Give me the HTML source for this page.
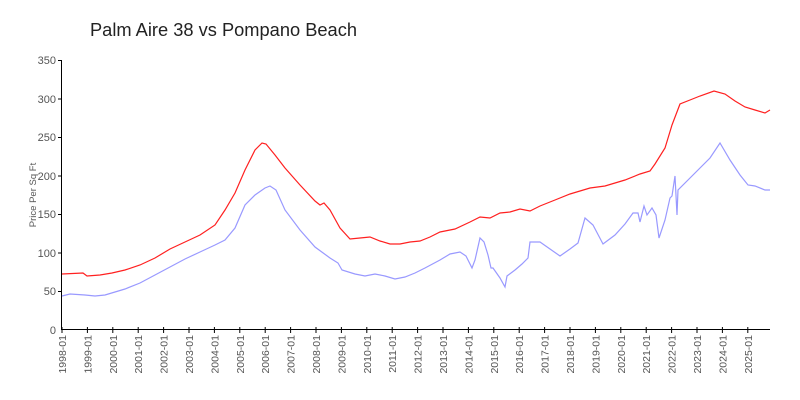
<!DOCTYPE html>
<html><head><meta charset="utf-8"><style>
html,body{margin:0;padding:0;background:#fff;}
svg{display:block;font-family:"Liberation Sans",sans-serif;}
</style></head><body>
<svg width="800" height="400" viewBox="0 0 800 400" xmlns="http://www.w3.org/2000/svg">
<rect width="800" height="400" fill="#fff"/>
<text x="90" y="36" font-size="18.5" fill="#222" textLength="267" lengthAdjust="spacingAndGlyphs">Palm Aire 38 vs Pompano Beach</text>
<text transform="translate(36,195) rotate(-90)" text-anchor="middle" font-size="9.5" fill="#555">Price Per Sq Ft</text>
<g font-size="11" fill="#555" text-anchor="end">
<text x="56" y="334">0</text><text x="56" y="295">50</text><text x="56" y="257">100</text><text x="56" y="218">150</text><text x="56" y="180">200</text><text x="56" y="141">250</text><text x="56" y="103">300</text><text x="56" y="64">350</text>
</g>
<g stroke="#000" stroke-width="1">
<line x1="61.5" y1="60" x2="61.5" y2="330"/>
<line x1="61" y1="329.5" x2="770" y2="329.5"/>
<line x1="58" y1="60.5" x2="61" y2="60.5"/><line x1="58" y1="99" x2="61" y2="99"/><line x1="58" y1="137.5" x2="61" y2="137.5"/><line x1="58" y1="176" x2="61" y2="176"/><line x1="58" y1="214.5" x2="61" y2="214.5"/><line x1="58" y1="253" x2="61" y2="253"/><line x1="58" y1="291.5" x2="61" y2="291.5"/>
</g>
<g id="xt" stroke="#000"></g>
<g id="xl" font-size="10.5" fill="#555"></g>
<polyline fill="none" stroke="#ff2020" stroke-width="1.2" points="62,274 83,273 87,276 100,275 112,273 125,270 140,265 155,258 170,249 185,242 200,235 215,225 225,210 235,193 245,170 255,150 262,143 266,144 275,155 285,168 300,185 315,201 320,205 324,203 330,210 340,228 350,239 360,238 370,237 380,241 390,244 400,244 410,242 420,241 430,237 440,232 455,229 470,222 480,217 490,218 500,213 510,212 520,209 530,211 540,206 555,200 570,194 590,188 605,186 615,183 625,180 640,174 650,171 655,164 665,148 672,125 680,104 690,100 700,96 714,91 725,94 735,101 745,107 755,110 765,113 770,110"/>
<polyline fill="none" stroke="#9999ff" stroke-width="1.2" points="62,296 70,294 85,295 95,296 105,295 115,292 125,289 140,283 155,275 170,267 185,259 200,252 215,245 225,240 235,228 245,205 255,195 265,188 270,186 276,190 285,210 300,230 315,247 330,258 338,263 342,270 355,274 365,276 375,274 385,276 395,279 405,277 415,273 425,268 440,260 450,254 460,252 466,256 472,268 475,260 480,238 484,242 488,255 491,268 493,268 500,278 505,287 507,276 515,270 522,264 528,258 530,242 540,242 550,249 560,256 570,249 578,243 585,218 593,225 603,244 615,235 625,224 633,213 638,213 640,222 644,206 647,215 652,208 656,215 659,238 665,220 670,198 672,196 675,176 677,215 678,190 690,178 700,168 710,158 720,143 730,160 740,175 748,185 755,186 765,190 770,190"/>
<script>
var xt=document.getElementById('xt'),xl=document.getElementById('xl'),ns='http://www.w3.org/2000/svg';
for(var i=0;i<28;i++){var x=62+25.4*i;
var l=document.createElementNS(ns,'line');l.setAttribute('x1',x);l.setAttribute('x2',x);l.setAttribute('y1',327);l.setAttribute('y2',333);xt.appendChild(l);
var t=document.createElementNS(ns,'text');t.setAttribute('transform','translate('+(x+4)+',335) rotate(-90)');t.setAttribute('text-anchor','end');t.textContent=(1998+i)+'-01';xl.appendChild(t);}
</script>
</svg>
</body></html>
